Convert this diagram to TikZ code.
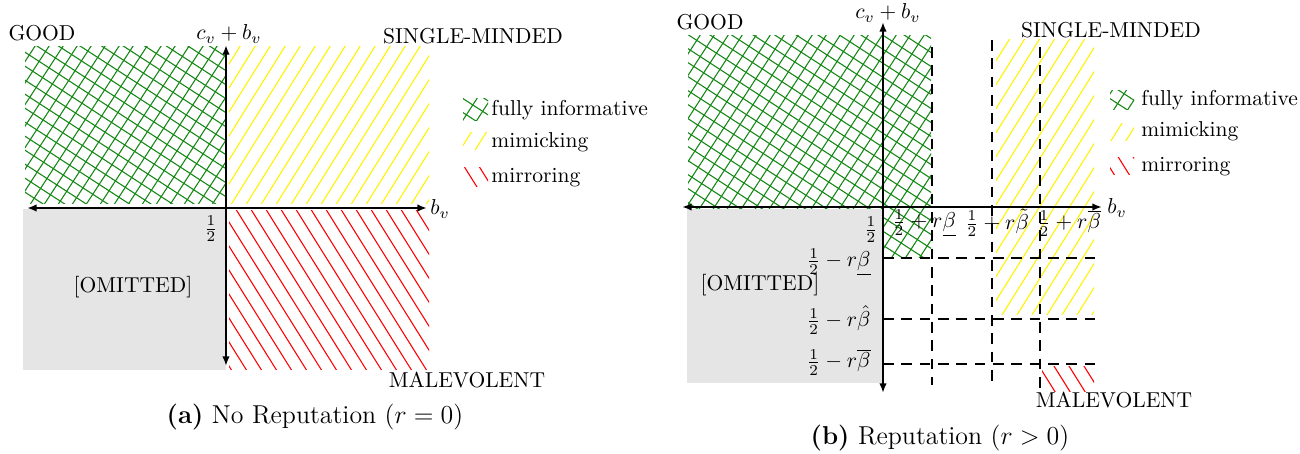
\documentclass[tikz,border=0pt]{standalone}
\usetikzlibrary{arrows.meta}
\definecolor{hgreen}{RGB}{20,135,20}
\newcommand\ghatch[4]{%
  \begin{scope}
    \clip (#1,#2) rectangle (#3,#4);
    \foreach \k in {-860,-846,...,460}{\draw[gl] (0,\k) -- (1300,\k+844);}
    \foreach \k in {-300,-286,...,1300}{\draw[gl] (\k,454) -- ++(295,-454);}
  \end{scope}}
\newcommand\yhatch[4]{%
  \begin{scope}
    \clip (#1,#2) rectangle (#3,#4);
    \foreach \k in {-300,-285,...,1300}{\draw[yl] (\k,454) -- ++(284,-454);}
  \end{scope}}
\newcommand\rhatch[4]{%
  \begin{scope}
    \clip (#1,#2) rectangle (#3,#4);
    \foreach \k in {-300,-285,...,1300}{\draw[rl] (\k,0) -- ++(284,454);}
  \end{scope}}
\begin{document}
\begin{tikzpicture}[x={(0.4638pt,0)}, y={(0,-0.4638pt)},
  axis/.style={line width=1.1pt, {Latex[length=4.5pt,width=3.5pt]}-{Latex[length=4.5pt,width=3.5pt]}},
  dsh/.style={line width=0.9pt, dash pattern=on 5pt off 3.5pt},
  gl/.style={draw=hgreen, line width=0.5pt},
  yl/.style={draw=yellow, line width=0.5pt},
  rl/.style={draw=red, line width=0.5pt},
  lbl/.style={inner sep=0pt},
  captext/.style={inner sep=0pt, font=\large}]
\useasboundingbox (0,0) rectangle (1300,454);

% ---------------- panel (a) ----------------
\ghatch{25}{47}{225}{204}
\yhatch{229}{47}{429}{204}
\rhatch{229}{211}{429}{370}
\fill[gray!20] (23,209) rectangle (226,370);
\coordinate (aL) at (27,208);
\coordinate (aR) at (427,208);
\coordinate (aT) at (226,45);
\coordinate (aB) at (226,366);
\draw[axis] (aL) -- (aR);
\draw[axis] (aB) -- (aT);
\node[lbl] (goodA) at (42,33) {GOOD};
\node[lbl] (cbA) at (229,34) {$c_v+b_v$};
\node[lbl] (smA) at (473,36) {SINGLE-MINDED};
\node[lbl] (bvA) at (440,209) {$b_v$};
\node[lbl] (halfA) at (211,229) {$\frac{1}{2}$};
\node[lbl] (omA) at (133,287) {[OMITTED]};
\node[lbl] (malA) at (467,380) {MALEVOLENT};
\ghatch{463}{99}{488}{121}
\yhatch{463}{133}{488}{150}
\rhatch{463}{168}{488}{187}
\node[lbl, anchor=west] (lgA1) at (491,110) {fully informative};
\node[lbl, anchor=west] (lgA2) at (491,142) {mimicking};
\node[lbl, anchor=west] (lgA3) at (491,178) {mirroring};
\node[captext] (capA) at (315,417) {\textbf{(a)} No Reputation ($r=0$)};

% ---------------- panel (b) ----------------
\ghatch{688}{36}{931}{258}
\yhatch{996}{40}{1094}{315}
\rhatch{1042}{367}{1094}{392}
\fill[gray!20] (687,209) rectangle (882,383);
\coordinate (v1t) at (932,47);  \coordinate (v1b) at (932,385);
\coordinate (v2t) at (992,40);  \coordinate (v2b) at (992,385);
\coordinate (v3t) at (1040,47); \coordinate (v3b) at (1040,388);
\coordinate (h1l) at (883,258); \coordinate (h1r) at (1098,258);
\coordinate (h2l) at (883,319); \coordinate (h2r) at (1098,319);
\coordinate (h3l) at (883,364); \coordinate (h3r) at (1098,364);
\draw[dsh] (v1t) -- (v1b);
\draw[dsh] (v2t) -- (v2b);
\draw[dsh] (v3t) -- (v3b);
\draw[dsh] (h1l) -- (h1r);
\draw[dsh] (h2l) -- (h2r);
\draw[dsh] (h3l) -- (h3r);
\coordinate (bL) at (682,207);
\coordinate (bR) at (1102,207);
\coordinate (bT) at (883,22);
\coordinate (bB) at (883,393);
\draw[axis] (bL) -- (bR);
\draw[axis] (bB) -- (bT);
\node[lbl] (goodB) at (710,22) {GOOD};
\node[lbl] (cbB) at (888,13) {$c_v+b_v$};
\node[lbl] (smB) at (1111,30) {SINGLE-MINDED};
\node[lbl] (bvB) at (1117,208) {$b_v$};
\node[lbl] (halfB) at (871,230) {$\frac{1}{2}$};
\node[lbl] (xl1) at (924,223) {$\frac{1}{2}+r\underline{\beta}$};
\node[lbl] (xl2) at (997,223) {$\frac{1}{2}+r\tilde{\beta}$};
\node[lbl] (xl3) at (1069,223) {$\frac{1}{2}+r\overline{\beta}$};
\node[lbl, anchor=east] (yl1) at (871,262) {$\frac{1}{2}-r\underline{\beta}$};
\node[lbl, anchor=east] (yl2) at (871,320) {$\frac{1}{2}-r\hat{\beta}$};
\node[lbl, anchor=east] (yl3) at (871,362) {$\frac{1}{2}-r\overline{\beta}$};
\node[lbl] (omB) at (760,285) {[OMITTED]};
\node[lbl] (malB) at (1114,400) {MALEVOLENT};
\ghatch{1110}{91}{1134}{110}
\yhatch{1110}{124}{1134}{141}
\rhatch{1110}{158}{1134}{175}
\node[lbl, anchor=west] (lgB1) at (1141,100) {fully informative};
\node[lbl, anchor=west] (lgB2) at (1141,131) {mimicking};
\node[lbl, anchor=west] (lgB3) at (1141,167) {mirroring};
\node[captext] (capB) at (940,438) {\textbf{(b)} Reputation ($r>0$)};
\end{tikzpicture}
\end{document}
